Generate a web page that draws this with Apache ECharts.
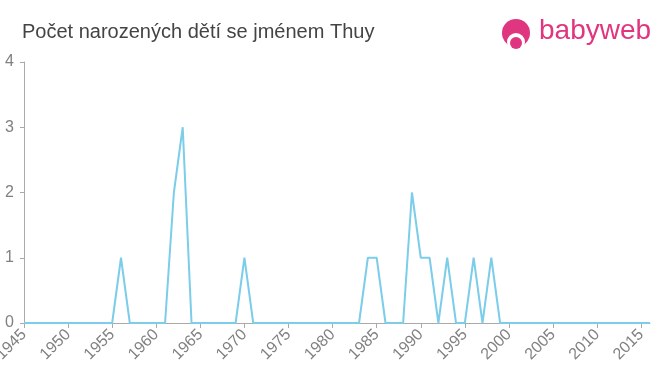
<!DOCTYPE html>
<html><head><meta charset="utf-8">
<script src="https://cdn.jsdelivr.net/npm/echarts@6/dist/echarts.min.js"></script>
<style>html,body{margin:0;padding:0;background:#fff}#c{width:660px;height:375px}</style>
</head><body><div id="c"></div>
<script>
var years = [1945,1946,1947,1948,1949,1950,1951,1952,1953,1954,1955,1956,1957,1958,1959,1960,1961,1962,1963,1964,1965,1966,1967,1968,1969,1970,1971,1972,1973,1974,1975,1976,1977,1978,1979,1980,1981,1982,1983,1984,1985,1986,1987,1988,1989,1990,1991,1992,1993,1994,1995,1996,1997,1998,1999,2000,2001,2002,2003,2004,2005,2006,2007,2008,2009,2010,2011,2012,2013,2014,2015,2016];
var counts = [0,0,0,0,0,0,0,0,0,0,0,1,0,0,0,0,0,2,3,0,0,0,0,0,0,1,0,0,0,0,0,0,0,0,0,0,0,0,0,1,1,0,0,0,2,1,1,0,1,0,0,1,0,1,0,0,0,0,0,0,0,0,0,0,0,0,0,0,0,0,0,0];
var title = 'Počet narozených dětí se jménem Thuy';

var data = years.map(function(y,i){return [y,counts[i]];});
var chart = echarts.init(document.getElementById('c'));
chart.setOption({
  animation:false,
  title:{text:title,left:17,top:17,textStyle:{fontFamily:'Liberation Sans, Arial',fontSize:20,fontWeight:'normal',color:'#444'}},
  grid:{left:24,right:10,top:62,bottom:52,containLabel:false,outerBoundsMode:'none'},
  xAxis:{type:'value',min:1945,max:2016,interval:5,
    axisLine:{lineStyle:{color:'#aaa',width:1}},
    axisTick:{show:true,length:5,lineStyle:{color:'#aaa'}},
    splitLine:{show:false},
    axisLabel:{rotate:45,color:'#808080',fontSize:16,fontFamily:'Liberation Sans, Arial',margin:9,showMaxLabel:false,
      formatter:function(v){return String(v);}}},
  yAxis:{type:'value',min:0,max:4,interval:1,
    axisLine:{show:true,lineStyle:{color:'#aaa'}},
    axisTick:{show:true,length:4,lineStyle:{color:'#aaa'}},
    splitLine:{show:false},
    axisLabel:{color:'#808080',fontSize:16,fontFamily:'Liberation Sans, Arial',margin:10}},
  series:[{type:'line',data:data,symbol:'none',lineStyle:{color:'#7bcde9',width:2},itemStyle:{color:'#7bcde9'}}],
  graphic:[
    {type:'circle',shape:{cx:516,cy:33,r:14},style:{fill:'#e0367f'}},
    {type:'circle',shape:{cx:516,cy:42,r:9},style:{fill:'#fff'}},
    {type:'circle',shape:{cx:516,cy:43,r:6},style:{fill:'#e0367f'}},
    {type:'text',left:539,top:17,style:{text:'babyweb',fill:'#e0367f',font:'28px "Liberation Sans", Arial'}}
  ]
});
</script></body></html>
